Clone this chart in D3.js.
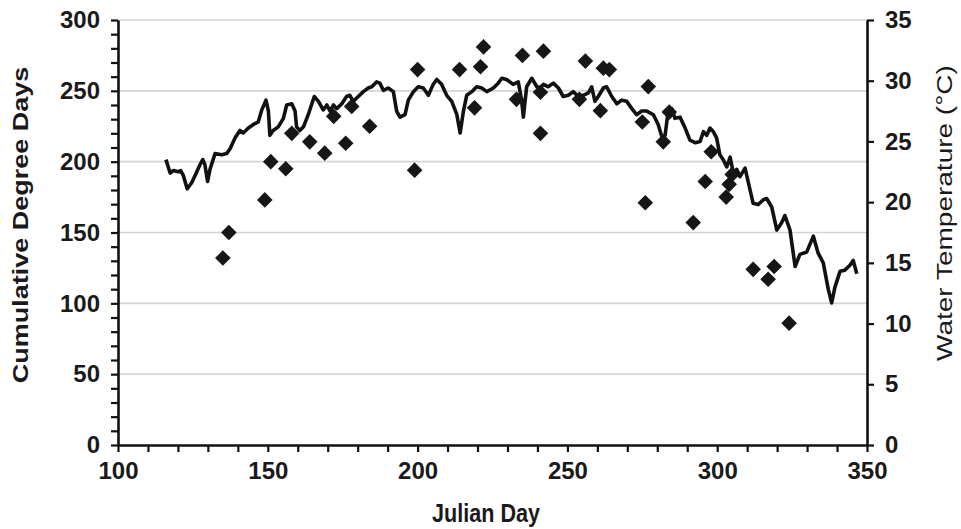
<!DOCTYPE html>
<html>
<head>
<meta charset="utf-8">
<script src="https://cdn.jsdelivr.net/npm/d3@7/dist/d3.min.js"></script>
<style>
  html, body { margin: 0; padding: 0; background: #fff; }
  svg { display: block; }
  text { font-family: "Liberation Sans", Arial, sans-serif; fill: #1a1a1a; }
</style>
</head>
<body>
<svg id="chart" width="961" height="529"></svg>
<script>
// ---- Data ----
// Cumulative degree days (left axis) — diamonds
const cddDays = [135,137,149,151,156,158,164,169,172,176,178,184,199,200,214,219,221,222,233,235,241,241,242,254,256,261,262,264,275,276,277,282,284,292,296,298,303,304,305,312,317,319,324];
const cddValues = [132,150,173,200,195,220,214,206,232,213,239,225,194,265,265,238,267,281,244,275,249,220,278,244,271,236,266,265,228,171,253,214,235,157,186,207,175,184,191,124,117,126,86];

// Water temperature (right axis) — line
const tempDays = [116.0,117.4,118.5,120.1,120.9,121.8,123.1,124.6,126.3,127.4,128.3,129.0,129.9,130.7,132.4,134.6,136.3,137.4,139.1,140.7,141.8,143.5,145.2,146.8,148.0,149.4,150.2,150.7,151.8,153.5,155.2,156.3,158.0,159.1,159.6,160.7,161.9,163.5,165.5,166.9,168.5,169.7,170.8,171.9,173.0,174.7,176.3,177.4,178.5,180.2,181.9,183.5,184.7,186.3,187.4,188.6,190.2,191.9,193.0,194.1,195.8,196.9,198.6,200.2,201.9,203.6,205.2,206.4,208.0,209.7,211.4,213.1,214.2,215.3,216.4,218.1,219.7,221.4,223.1,225.3,226.9,228.1,229.7,231.9,233.6,234.7,235.3,236.4,238.1,239.8,240.9,242.0,243.6,245.3,247.0,248.6,250.3,252.0,253.6,255.3,257.0,258.1,259.2,260.3,262.0,263.1,264.8,266.5,268.1,269.8,271.5,273.1,274.8,276.5,278.7,280.3,281.5,282.6,283.7,284.8,285.9,287.6,289.3,290.9,292.6,294.3,295.4,296.5,297.6,298.7,299.8,300.9,302.0,303.2,304.3,305.4,306.5,307.6,309.3,310.4,312.0,313.7,315.4,316.5,318.2,319.9,321.5,322.6,324.3,326.0,327.6,329.9,332.1,333.7,335.4,337.1,338.2,339.3,341.0,342.6,344.3,345.4,346.6];
const tempValues = [23.5,22.4,22.6,22.5,22.6,22.2,21.1,21.6,22.5,23.1,23.5,23.1,21.7,22.7,24.0,23.9,24.0,24.4,25.3,25.9,25.7,26.1,26.4,26.6,27.6,28.4,27.5,25.5,25.9,26.2,26.9,28.0,28.1,27.5,26.2,25.9,26.2,27.2,28.7,28.3,27.6,28.0,27.5,28.0,27.7,28.1,28.7,28.8,28.3,28.7,29.1,29.4,29.5,29.9,29.8,29.2,29.4,29.1,27.5,27.0,27.2,28.4,29.1,29.5,29.4,28.8,29.7,30.1,29.7,28.8,28.3,27.2,25.7,27.5,28.8,29.1,29.5,29.4,29.1,29.4,29.8,30.2,30.1,29.7,29.9,28.4,27.0,29.5,30.2,29.5,29.4,29.7,29.5,29.8,29.4,28.7,28.8,29.1,28.7,28.8,29.0,29.5,28.3,28.7,29.4,29.5,28.7,28.1,28.4,28.3,27.7,27.2,27.5,27.5,27.2,26.4,25.4,25.5,27.6,27.7,26.9,27.0,26.1,25.1,24.9,25.0,25.8,25.5,26.1,25.8,25.3,23.9,23.5,22.9,23.7,22.4,22.7,22.1,22.8,21.6,19.9,19.8,20.2,20.3,19.6,17.7,18.3,18.9,17.7,14.7,15.7,15.9,17.2,15.8,15.0,12.8,11.7,13.0,14.3,14.4,14.8,15.2,14.1];

// Axis ticks
const xTicks = d3.range(100, 351, 10);
const xLabels = [100,150,200,250,300,350];
const yLeftTicks = d3.range(0, 301, 10);
const yLeftLabels = [0,50,100,150,200,250,300];
const yRightTicks = [0,5,10,15,20,25,30,35];
const gridValues = [50,100,150,200,250,300];

// ---- Layout ----
const svg = d3.select("#chart");
const x = d3.scaleLinear().domain([100, 350]).range([118, 867]);
const yL = d3.scaleLinear().domain([0, 300]).range([445, 20]);
const yR = d3.scaleLinear().domain([0, 35]).range([445, 20]);

// Grid lines
svg.append("g").selectAll("line").data(gridValues).join("line")
  .attr("x1", x(100)).attr("x2", x(350))
  .attr("y1", d => yL(d)).attr("y2", d => yL(d))
  .attr("stroke", "#d4d4d4").attr("stroke-width", 1.6);

// Axes
function styleAxis(g) {
  g.select(".domain").attr("stroke", "#111").attr("stroke-width", 2.6);
  g.selectAll(".tick line").attr("stroke", "#111").attr("stroke-width", 2.2);
  g.selectAll(".tick text").style("font-size", "24px").style("font-weight", "bold").attr("fill", "#1a1a1a");
}

svg.append("g").attr("transform", `translate(0,${yL(0)})`)
  .call(d3.axisBottom(x).tickValues(xTicks).tickSize(7).tickSizeOuter(0).tickPadding(10)
    .tickFormat(d => xLabels.includes(d) ? d : ""))
  .call(styleAxis)
  .call(g => g.selectAll(".tick text").attr("dy", "0.71em"));

svg.append("g").attr("transform", `translate(${x(100)},0)`)
  .call(d3.axisLeft(yL).tickValues(yLeftTicks).tickSize(7).tickSizeOuter(0).tickPadding(11)
    .tickFormat(d => yLeftLabels.includes(d) ? d : ""))
  .call(styleAxis);

svg.append("g").attr("transform", `translate(${x(350)},0)`)
  .call(d3.axisRight(yR).tickValues(yRightTicks).tickSize(7).tickSizeOuter(0).tickPadding(11))
  .call(styleAxis);

// Temperature line
const line = d3.line().x((d, i) => x(tempDays[i])).y((d, i) => yR(tempValues[i]));
svg.append("path").datum(tempValues)
  .attr("d", line)
  .attr("fill", "none").attr("stroke", "#111").attr("stroke-width", 3.6)
  .attr("stroke-linejoin", "round");

// Diamonds
const half = 7.8;
svg.append("g").selectAll("path").data(cddValues).join("path")
  .attr("transform", (d, i) => `translate(${x(cddDays[i])},${yL(d)})`)
  .attr("d", `M0,${-half}L${half},0L0,${half}L${-half},0Z`)
  .attr("fill", "#161616");

// Axis titles
svg.append("text")
  .attr("transform", `translate(27.5,225) scale(0.8,1) rotate(-90)`)
  .attr("text-anchor", "middle")
  .style("font-size", "27px").style("font-weight", "bold")
  .text("Cumulative Degree Days");

svg.append("text")
  .attr("transform", `translate(952,213) scale(0.8,1) rotate(-90)`)
  .attr("text-anchor", "middle")
  .style("font-size", "28px")
  .text("Water Temperature (°C)");

svg.append("text")
  .attr("transform", `translate(486,522) scale(0.83,1)`)
  .attr("text-anchor", "middle")
  .style("font-size", "26px").style("font-weight", "bold")
  .text("Julian Day");
</script>
</body>
</html>
